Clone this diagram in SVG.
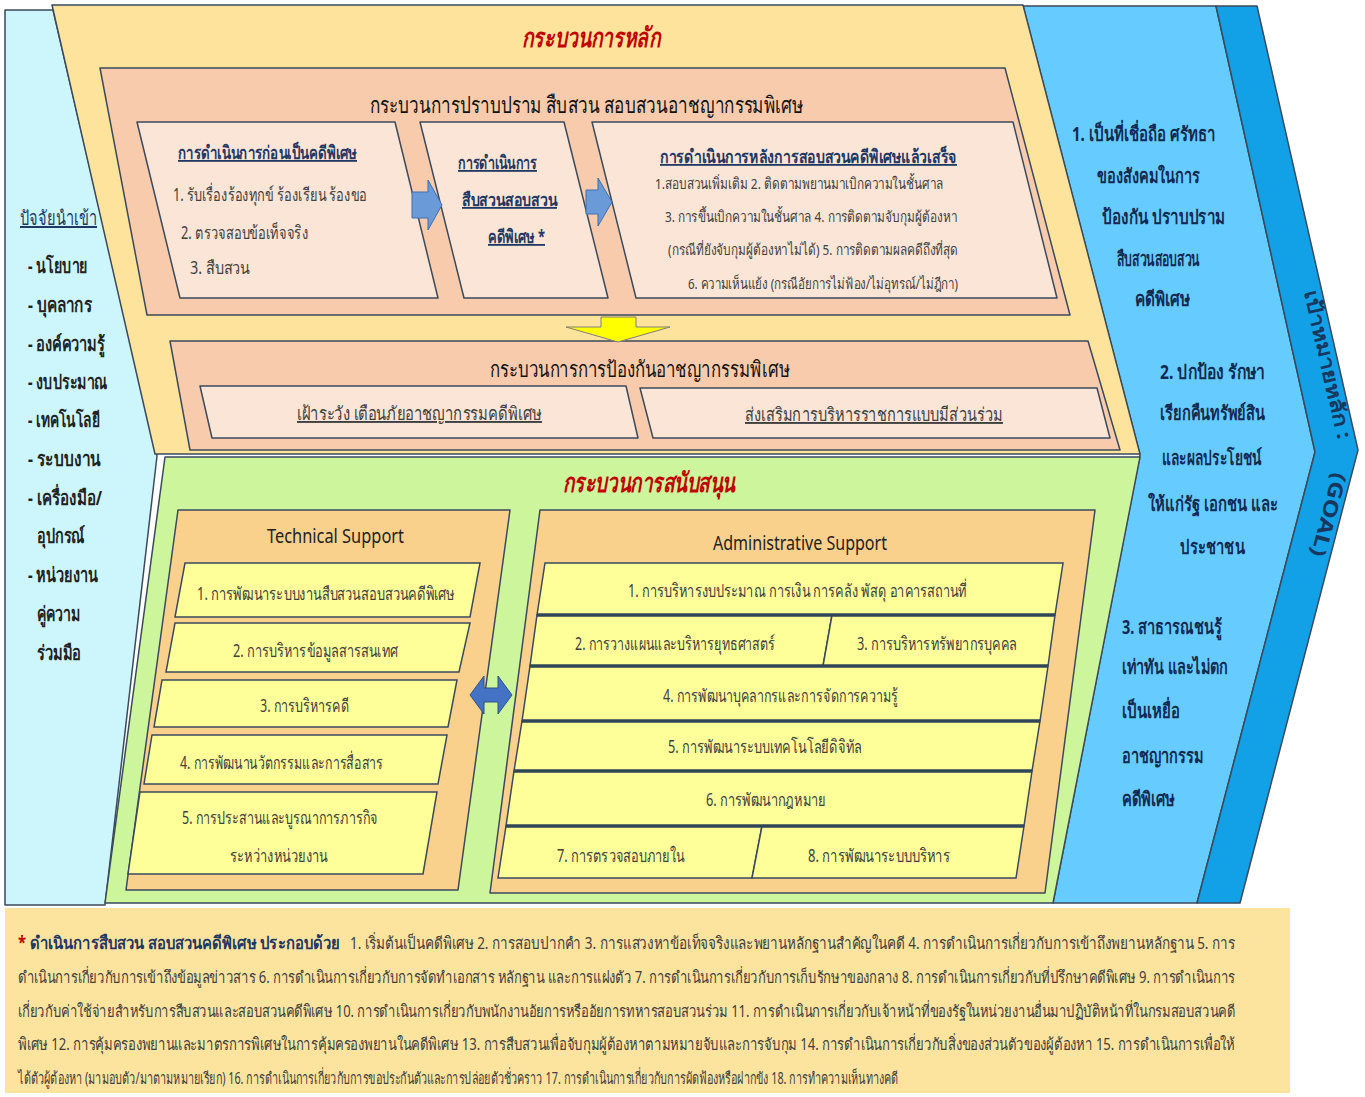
<svg xmlns="http://www.w3.org/2000/svg" width="1365" height="1097" viewBox="0 0 1365 1097">
<style>
text{font-family:"Noto Sans","DejaVu Sans",sans-serif;}
.pan{stroke:#3b4a5c;stroke-width:1.5;stroke-linejoin:round}
.cyan{fill:#ccf6fb}
.yel{fill:#fde39b}
.peach{fill:#f8cbad}
.pink{fill:#fbe5d6}
.grn{fill:#ccf59c}
.tan{fill:#fad08d}
.item{fill:#ffff99;stroke:#3b4a5c;stroke-width:1.5}
.sep{stroke:#2f4558;stroke-width:3.5}
.lb{fill:#66ccff}
.db{fill:#12a0e6}
.red{fill:#c00000;font-weight:bold;font-style:italic;font-size:27px}
.h{fill:#111;font-size:22px}
.nv{fill:#1f3864;font-size:18px;text-decoration:underline;font-weight:bold}
.g{fill:#404040;font-size:18px}
.sm{fill:#404040;font-size:15px}
.ul{text-decoration:underline}
.in{fill:#222;font-size:20px;font-weight:bold}
.goal{fill:#132a50;font-size:20px;font-weight:bold}
.ft{fill:#404040;font-size:14px}
.arr{fill:#6a9bd8;stroke:#3f6fb0;stroke-width:1}
.m{text-anchor:middle}
</style>

<!-- Input factors -->
<g id="input">
<polygon class="cyan pan" points="5,10 53,10 157,456 105,905 5,905"/>
<text class="nv" style="fill:#1f3864;font-size:20px;font-weight:normal" x="20" y="225" textLength="77" lengthAdjust="spacingAndGlyphs">ปัจจัยนำเข้า</text>
<text class="in" x="28" y="273" textLength="60" lengthAdjust="spacingAndGlyphs">- นโยบาย</text>
<text class="in" x="28" y="312" textLength="64" lengthAdjust="spacingAndGlyphs">- บุคลากร</text>
<text class="in" x="28" y="351" textLength="77" lengthAdjust="spacingAndGlyphs">- องค์ความรู้</text>
<text class="in" x="28" y="389" textLength="80" lengthAdjust="spacingAndGlyphs">- งบประมาณ</text>
<text class="in" x="28" y="427" textLength="72" lengthAdjust="spacingAndGlyphs">- เทคโนโลยี</text>
<text class="in" x="28" y="466" textLength="73" lengthAdjust="spacingAndGlyphs">- ระบบงาน</text>
<text class="in" x="28" y="505" textLength="74" lengthAdjust="spacingAndGlyphs">- เครื่องมือ/</text>
<text class="in" x="37" y="543" textLength="48" lengthAdjust="spacingAndGlyphs">อุปกรณ์</text>
<text class="in" x="28" y="582" textLength="70" lengthAdjust="spacingAndGlyphs">- หน่วยงาน</text>
<text class="in" x="37" y="621" textLength="43" lengthAdjust="spacingAndGlyphs">คู่ความ</text>
<text class="in" x="37" y="660" textLength="44" lengthAdjust="spacingAndGlyphs">ร่วมมือ</text>
</g>

<!-- Goal -->
<g id="goal">
<polygon class="lb pan" points="1023,6 1216,6 1315,452 1197,903 1053,903 1140,455"/>
<polygon class="db pan" points="1216,6 1257,6 1358,450 1240,903 1197,903 1315,452"/>
<text style="fill:#17375e;font-size:20px;font-weight:bold" class="m" transform="translate(1321,366) rotate(77)" textLength="152" lengthAdjust="spacingAndGlyphs">เป้าหมายหลัก :</text>
<text style="fill:#17375e;font-size:20px;font-weight:bold" class="m" transform="translate(1322,513) rotate(105)" textLength="86" lengthAdjust="spacingAndGlyphs">(GOAL)</text>
<text class="goal" x="1072" y="141" textLength="143" lengthAdjust="spacingAndGlyphs">1. เป็นที่เชื่อถือ  ศรัทธา</text>
<text class="goal" x="1097" y="183" textLength="103" lengthAdjust="spacingAndGlyphs">ของสังคมในการ</text>
<text class="goal" x="1102" y="224" textLength="123" lengthAdjust="spacingAndGlyphs">ป้องกัน ปราบปราม</text>
<text class="goal" x="1117" y="266" textLength="83" lengthAdjust="spacingAndGlyphs">สืบสวนสอบสวน</text>
<text class="goal" x="1135" y="306" textLength="55" lengthAdjust="spacingAndGlyphs">คดีพิเศษ</text>
<text class="goal" x="1160" y="379" textLength="105" lengthAdjust="spacingAndGlyphs">2. ปกป้อง  รักษา</text>
<text class="goal" x="1160" y="420" textLength="105" lengthAdjust="spacingAndGlyphs">เรียกคืนทรัพย์สิน</text>
<text class="goal" x="1162" y="465" textLength="100" lengthAdjust="spacingAndGlyphs">และผลประโยชน์</text>
<text class="goal" x="1148" y="511" textLength="130" lengthAdjust="spacingAndGlyphs">ให้แก่รัฐ  เอกชน และ</text>
<text class="goal" x="1180" y="554" textLength="65" lengthAdjust="spacingAndGlyphs">ประชาชน</text>
<text class="goal" x="1122" y="634" textLength="100" lengthAdjust="spacingAndGlyphs">3. สาธารณชนรู้</text>
<text class="goal" x="1122" y="674" textLength="106" lengthAdjust="spacingAndGlyphs">เท่าทัน และไม่ตก</text>
<text class="goal" x="1122" y="718" textLength="58" lengthAdjust="spacingAndGlyphs">เป็นเหยื่อ</text>
<text class="goal" x="1122" y="763" textLength="81" lengthAdjust="spacingAndGlyphs">อาชญากรรม</text>
<text class="goal" x="1122" y="806" textLength="53" lengthAdjust="spacingAndGlyphs">คดีพิเศษ</text>
</g>

<!-- Main process -->
<g id="main-process">
<polygon class="yel pan" points="52,5 1023,5 1140,454 155,454"/>
<text class="red" x="522" y="47" textLength="138" lengthAdjust="spacingAndGlyphs">กระบวนการหลัก</text>
</g>

<g id="repression">
<polygon class="peach pan" points="100,68 1005,68 1070,315 147,315"/>
<text class="h" x="370" y="113" style="font-size:23px" textLength="433" lengthAdjust="spacingAndGlyphs">กระบวนการปราบปราม  สืบสวน สอบสวนอาชญากรรมพิเศษ</text>
</g>

<g id="pre-case">
<polygon class="pink pan" points="137,122 395,122 438,298 180,298"/>
<text class="nv" x="178" y="159" textLength="179" lengthAdjust="spacingAndGlyphs">การดำเนินการก่อนเป็นคดีพิเศษ</text>
<text class="g" x="173" y="201" textLength="194" lengthAdjust="spacingAndGlyphs">1. รับเรื่องร้องทุกข์ ร้องเรียน ร้องขอ</text>
<text class="g" x="181" y="239" textLength="127" lengthAdjust="spacingAndGlyphs">2. ตรวจสอบข้อเท็จจริง</text>
<text class="g" x="190" y="274" textLength="60" lengthAdjust="spacingAndGlyphs">3.  สืบสวน</text>
</g>

<g id="investigation">
<polygon class="pink pan" points="420,122 564,122 608,298 464,298"/>
<text class="nv" x="458" y="169" textLength="79" lengthAdjust="spacingAndGlyphs">การดำเนินการ</text>
<text class="nv" x="462" y="206" textLength="95" lengthAdjust="spacingAndGlyphs">สืบสวนสอบสวน</text>
<text class="nv" x="488" y="243" textLength="57" lengthAdjust="spacingAndGlyphs">คดีพิเศษ *</text>
</g>

<g id="post-case">
<polygon class="pink pan" points="592,122 1013,122 1057,298 636,298"/>
<text class="nv" x="660" y="163" textLength="297" lengthAdjust="spacingAndGlyphs">การดำเนินการหลังการสอบสวนคดีพิเศษแล้วเสร็จ</text>
<text class="sm" x="655" y="189" textLength="288" lengthAdjust="spacingAndGlyphs">1.สอบสวนเพิ่มเติม   2. ติดตามพยานมาเบิกความในชั้นศาล</text>
<text class="sm" x="665" y="222" textLength="292" lengthAdjust="spacingAndGlyphs">3. การขึ้นเบิกความในชั้นศาล   4. การติดตามจับกุมผู้ต้องหา</text>
<text class="sm" x="668" y="255" textLength="290" lengthAdjust="spacingAndGlyphs">(กรณีที่ยังจับกุมผู้ต้องหาไม่ได้)  5. การติดตามผลคดีถึงที่สุด</text>
<text class="sm" x="688" y="289" textLength="270" lengthAdjust="spacingAndGlyphs">6. ความเห็นแย้ง  (กรณีอัยการไม่ฟ้อง/ไม่อุทรณ์/ไม่ฎีกา)</text>
</g>

<g id="prevention">
<polygon class="peach pan" points="170,341 1088,341 1120,450 190,450"/>
<text class="h" x="490" y="377" textLength="300" lengthAdjust="spacingAndGlyphs">กระบวนการการป้องกันอาชญากรรมพิเศษ</text>
</g>

<g id="surveillance">
<polygon class="pink pan" points="200,386 626,386 638,438 212,438"/>
<text class="g ul" style="font-size:19px" x="297" y="420" textLength="245" lengthAdjust="spacingAndGlyphs">เฝ้าระวัง  เตือนภัยอาชญากรรมคดีพิเศษ</text>
</g>

<g id="participation">
<polygon class="pink pan" points="640,388 1097,388 1110,438 653,438"/>
<text class="g ul" style="font-size:19px" x="745" y="421" textLength="258" lengthAdjust="spacingAndGlyphs">ส่งเสริมการบริหารราชการแบบมีส่วนร่วม</text>
</g>

<!-- Support process -->
<g id="support">
<polygon class="grn pan" points="165,457 1140,457 1053,903 105,903"/>
<text class="red" x="563" y="492" textLength="172" lengthAdjust="spacingAndGlyphs">กระบวนการสนับสนุน</text>
</g>

<g id="technical">
<polygon class="tan pan" points="178,510 510,510 458,890 126,890"/>
<text style="fill:#222;font-size:19px" x="267" y="543" textLength="137" lengthAdjust="spacingAndGlyphs">Technical Support</text>
</g>
<g id="tech-1">
<polygon class="item" points="185,563 480,563 470,617 175,617"/>
<text class="g" x="197" y="600" textLength="258" lengthAdjust="spacingAndGlyphs">1. การพัฒนาระบบงานสืบสวนสอบสวนคดีพิเศษ</text>
</g>
<g id="tech-2">
<polygon class="item" points="175,623 470,623 459,672 166,672"/>
<text class="g" x="233" y="657" textLength="165" lengthAdjust="spacingAndGlyphs">2. การบริหารข้อมูลสารสนเทศ</text>
</g>
<g id="tech-3">
<polygon class="item" points="162,680 457,680 448,727 154,727"/>
<text class="g" x="260" y="712" textLength="89" lengthAdjust="spacingAndGlyphs">3. การบริหารคดี</text>
</g>
<g id="tech-4">
<polygon class="item" points="152,735 447,735 438,784 144,784"/>
<text class="g" x="180" y="769" textLength="203" lengthAdjust="spacingAndGlyphs">4. การพัฒนานวัตกรรมและการสื่อสาร</text>
</g>
<g id="tech-5">
<polygon class="item" points="140,792 437,792 423,874 128,874"/>
<text class="g" x="182" y="824" textLength="196" lengthAdjust="spacingAndGlyphs">5. การประสานและบูรณาการภารกิจ</text>
<text class="g" x="230" y="862" textLength="98" lengthAdjust="spacingAndGlyphs">ระหว่างหน่วยงาน</text>
</g>

<g id="administrative">
<polygon class="tan pan" points="540,510 1095,510 1045,893 490,893"/>
<text style="fill:#222;font-size:19px" x="713" y="550" textLength="174" lengthAdjust="spacingAndGlyphs">Administrative Support</text>
</g>
<g id="admin-1">
<polygon class="item" points="545,563 1063,563 1055,615 537,615"/>
<text class="g" x="628" y="597" textLength="339" lengthAdjust="spacingAndGlyphs">1. การบริหารงบประมาณ การเงิน การคลัง พัสดุ อาคารสถานที่</text>
</g>
<g id="admin-2">
<polygon class="item" points="537,615 832,615 823,666 530,666"/>
<text class="g" x="575" y="650" textLength="200" lengthAdjust="spacingAndGlyphs">2. การวางแผนและบริหารยุทธศาสตร์</text>
</g>
<g id="admin-3">
<polygon class="item" points="832,615 1055,615 1048,666 823,666"/>
<text class="g" x="857" y="650" textLength="160" lengthAdjust="spacingAndGlyphs">3. การบริหารทรัพยากรบุคคล</text>
</g>
<g id="admin-4">
<polygon class="item" points="530,666 1048,666 1040,721 522,721"/>
<text class="g" x="663" y="702" textLength="235" lengthAdjust="spacingAndGlyphs">4. การพัฒนาบุคลากรและการจัดการความรู้</text>
</g>
<g id="admin-5">
<polygon class="item" points="522,721 1040,721 1032,771 514,771"/>
<text class="g" x="668" y="753" textLength="194" lengthAdjust="spacingAndGlyphs">5. การพัฒนาระบบเทคโนโลยีดิจิทัล</text>
</g>
<g id="admin-6">
<polygon class="item" points="514,771 1032,771 1024,826 506,826"/>
<text class="g" x="706" y="806" textLength="120" lengthAdjust="spacingAndGlyphs">6. การพัฒนากฎหมาย</text>
</g>
<g id="admin-7">
<polygon class="item" points="506,826 762,826 752,878 498,878"/>
<text class="g" x="557" y="862" textLength="128" lengthAdjust="spacingAndGlyphs">7. การตรวจสอบภายใน</text>
</g>
<g id="admin-8">
<polygon class="item" points="762,826 1024,826 1016,878 752,878"/>
<text class="g" x="808" y="862" textLength="142" lengthAdjust="spacingAndGlyphs">8. การพัฒนาระบบบริหาร</text>
</g>
<g id="admin-separators">
<line class="sep" x1="537" y1="615" x2="1055" y2="615"/>
<line class="sep" x1="530" y1="666" x2="1048" y2="666"/>
<line class="sep" x1="522" y1="721" x2="1040" y2="721"/>
<line class="sep" x1="514" y1="771" x2="1032" y2="771"/>
<line class="sep" x1="506" y1="826" x2="1024" y2="826"/>
</g>

<!-- Footer -->
<g id="footer">
<rect x="5" y="908" width="1285" height="185" fill="#fde49e"/>
<text class="ft" transform="translate(18,949) scale(1,1.18)" style="font-weight:bold;font-size:15px;fill:#1f3864" textLength="322" lengthAdjust="spacingAndGlyphs"><tspan fill="#c00000">*</tspan> ดำเนินการสืบสวน สอบสวนคดีพิเศษ ประกอบด้วย</text>
<text class="ft" transform="translate(350,949) scale(1,1.18)" textLength="885" lengthAdjust="spacingAndGlyphs">1. เริ่มต้นเป็นคดีพิเศษ 2. การสอบปากคำ 3. การแสวงหาข้อเท็จจริงและพยานหลักฐานสำคัญในคดี  4. การดำเนินการเกี่ยวกับการเข้าถึงพยานหลักฐาน 5. การ</text>
<text class="ft" transform="translate(18,983) scale(1,1.18)" textLength="1217" lengthAdjust="spacingAndGlyphs">ดำเนินการเกี่ยวกับการเข้าถึงข้อมูลข่าวสาร 6. การดำเนินการเกี่ยวกับการจัดทำเอกสาร หลักฐาน และการแฝงตัว  7. การดำเนินการเกี่ยวกับการเก็บรักษาของกลาง 8. การดำเนินการเกี่ยวกับที่ปรึกษาคดีพิเศษ  9. การดำเนินการ</text>
<text class="ft" transform="translate(18,1017) scale(1,1.18)" textLength="1217" lengthAdjust="spacingAndGlyphs">เกี่ยวกับค่าใช้จ่ายสำหรับการสืบสวนและสอบสวนคดีพิเศษ  10. การดำเนินการเกี่ยวกับพนักงานอัยการหรืออัยการทหารสอบสวนร่วม 11. การดำเนินการเกี่ยวกับเจ้าหน้าที่ของรัฐในหน่วยงานอื่นมาปฏิบัติหน้าที่ในกรมสอบสวนคดี</text>
<text class="ft" transform="translate(18,1050) scale(1,1.18)" textLength="1217" lengthAdjust="spacingAndGlyphs">พิเศษ  12. การคุ้มครองพยานและมาตรการพิเศษในการคุ้มครองพยานในคดีพิเศษ 13. การสืบสวนเพื่อจับกุมผู้ต้องหาตามหมายจับและการจับกุม  14. การดำเนินการเกี่ยวกับสิ่งของส่วนตัวของผู้ต้องหา  15. การดำเนินการเพื่อให้</text>
<text class="ft" transform="translate(18,1084) scale(1,1.18)" textLength="880" lengthAdjust="spacingAndGlyphs">ได้ตัวผู้ต้องหา (มามอบตัว/มาตามหมายเรียก) 16. การดำเนินการเกี่ยวกับการขอประกันตัวและการปล่อยตัวชั่วคราว  17. การดำเนินการเกี่ยวกับการผัดฟ้องหรือฝากขัง 18. การทำความเห็นทางคดี</text>
</g>

<!-- Connectors -->
<g id="connectors">
<polygon class="arr" points="412,192 428,192 428,180 442,205 428,230 428,218 412,218"/>
<polygon class="arr" points="586,190 598,190 598,178 612,202 598,226 598,214 586,214"/>
<polygon fill="#ffff00" stroke="#7f7f7f" stroke-width="1" points="601,317 636,317 636,327 670,327 618,342 566,327 601,327"/>
<polygon fill="#4472c4" stroke="#2f528f" stroke-width="1" points="470,695 484,676 484,688 498,688 498,676 512,695 498,714 498,702 484,702 484,714"/>
</g>
</svg>
